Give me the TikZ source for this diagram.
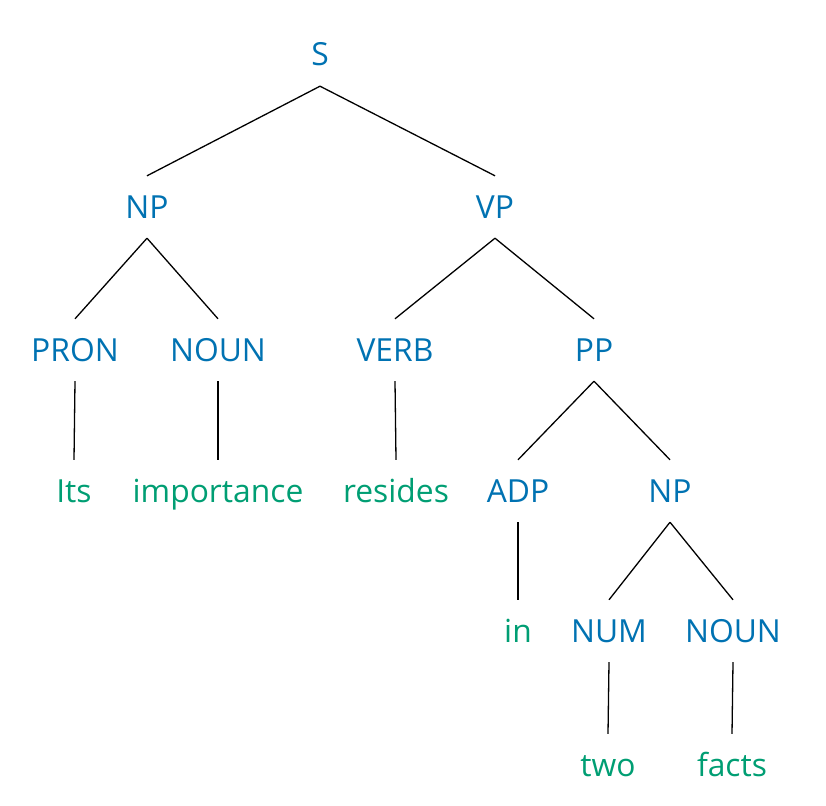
\documentclass[tikz,border=0pt]{standalone}
\usepackage{fontspec}
\setmainfont{Open Sans}
\definecolor{catblue}{HTML}{0072B2}
\definecolor{wordgreen}{HTML}{009E73}
\tikzset{
  lbl/.style={inner sep=0pt, text height=22pt, text depth=0pt, minimum height=62pt, font=\fontsize{31.8}{38}\selectfont},
  cat/.style={lbl, text=catblue},
  word/.style={lbl, text=wordgreen},
  edge/.style={draw=black, line width=1.3pt}
}
\begin{document}
\begin{tikzpicture}[x=1pt,y=-1pt]
\useasboundingbox (0,0) rectangle (826,805);
\node[cat] (S) at (320,55) {S};
\node[cat] (NP) at (147,207) {NP};
\node[cat] (VP) at (495,207) {VP};
\node[cat] (PRON) at (75,350) {PRON};
\node[cat] (NOUN) at (218,350) {NOUN};
\node[cat] (VERB) at (395,350) {VERB};
\node[cat] (PP) at (594,350) {PP};
\node[word] (its) at (74,491) {Its};
\node[word] (importance) at (218,491) {importance};
\node[word] (resides) at (396,491) {resides};
\node[cat] (ADP) at (518,491) {ADP};
\node[cat] (NPb) at (670,491) {NP};
\node[word] (in) at (518,631) {in};
\node[cat] (NUM) at (609,631) {NUM};
\node[cat] (NOUNb) at (733,631) {NOUN};
\node[word] (two) at (608,765) {two};
\node[word] (facts) at (732,765) {facts};
\draw[edge] (S.south) -- (NP.north);
\draw[edge] (S.south) -- (VP.north);
\draw[edge] (NP.south) -- (PRON.north);
\draw[edge] (NP.south) -- (NOUN.north);
\draw[edge] (VP.south) -- (VERB.north);
\draw[edge] (VP.south) -- (PP.north);
\draw[edge] (PRON.south) -- (its.north);
\draw[edge] (NOUN.south) -- (importance.north);
\draw[edge] (VERB.south) -- (resides.north);
\draw[edge] (PP.south) -- (ADP.north);
\draw[edge] (PP.south) -- (NPb.north);
\draw[edge] (ADP.south) -- (in.north);
\draw[edge] (NPb.south) -- (NUM.north);
\draw[edge] (NPb.south) -- (NOUNb.north);
\draw[edge] (NUM.south) -- (two.north);
\draw[edge] (NOUNb.south) -- (facts.north);
\end{tikzpicture}
\end{document}
